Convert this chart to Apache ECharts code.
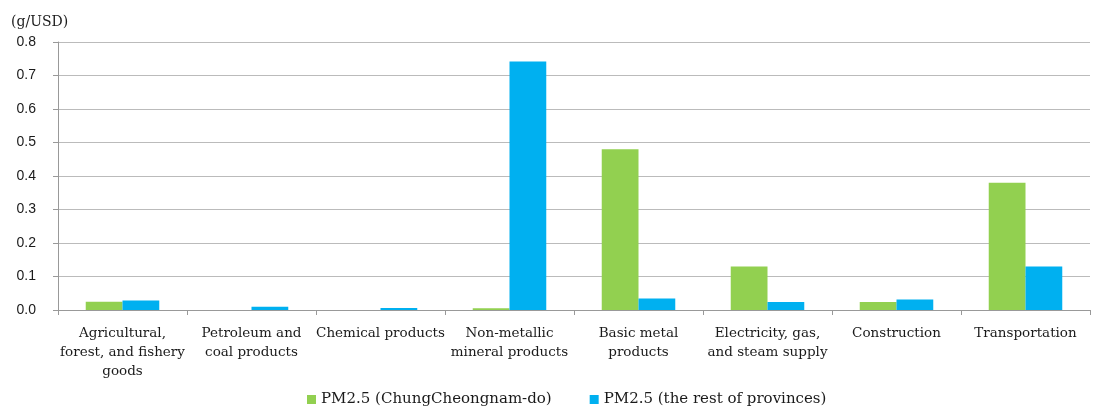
<!DOCTYPE html>
<html>
<head>
<meta charset="utf-8">
<script src="https://cdn.jsdelivr.net/npm/echarts@6/dist/echarts.min.js"></script>
<style>
  html, body { margin: 0; padding: 0; background: #fff; }
  #chart { width: 1093px; height: 412px; }
</style>
</head>
<body>
<div id="chart"></div>
<script>
// Emission intensity by industry (g/USD)
const categories = [
  'Agricultural,\nforest, and fishery\ngoods',
  'Petroleum and\ncoal products',
  'Chemical products',
  'Non-metallic\nmineral products',
  'Basic metal\nproducts',
  'Electricity, gas,\nand steam supply',
  'Construction',
  'Transportation'
];
const chungnamValues = [0.025, 0.0, 0.0, 0.005, 0.48, 0.13, 0.024, 0.38];
const restValues     = [0.028, 0.01, 0.006, 0.742, 0.034, 0.024, 0.031, 0.13];
const seriesNames = ['PM2.5 (ChungCheongnam-do)', 'PM2.5 (the rest of provinces)'];
const unitLabel = '(g/USD)';

const serif = '"DejaVu Serif", "Liberation Serif", serif';
const sans = '"Liberation Sans", Arial, sans-serif';

const chart = echarts.init(document.getElementById('chart'));
chart.setOption({
  animation: false,
  grid: { left: 58, right: 3, top: 42, bottom: 102, containLabel: false },
  title: {
    text: unitLabel, left: 6, top: 10,
    textStyle: { fontFamily: serif, fontSize: 14, fontWeight: 'normal', color: '#1a1a1a' }
  },
  legend: {
    bottom: 0, left: 302, itemWidth: 9, itemHeight: 9, itemGap: 38,
    icon: 'rect',
    textStyle: { fontFamily: serif, fontSize: 15, color: '#1a1a1a' },
    data: seriesNames
  },
  xAxis: {
    type: 'category',
    data: categories,
    axisLine: { lineStyle: { color: '#999' } },
    axisTick: { show: true, length: 5, lineStyle: { color: '#999' } },
    axisLabel: {
      interval: 0, margin: 14, lineHeight: 19,
      fontFamily: serif, fontSize: 13.5, color: '#1a1a1a'
    }
  },
  yAxis: {
    type: 'value', min: 0, max: 0.8, interval: 0.1,
    axisLine: { show: true, lineStyle: { color: '#999' } },
    axisTick: { show: true, length: 5, inside: false, lineStyle: { color: '#999' } },
    splitLine: { lineStyle: { color: '#bbb', width: 1 } },
    axisLabel: {
      margin: 22, fontFamily: sans, fontSize: 14, color: '#1a1a1a',
      formatter: v => v.toFixed(1)
    }
  },
  series: [
    {
      name: seriesNames[0], type: 'bar', data: chungnamValues,
      itemStyle: { color: '#92D050' },
      barGap: '0%', barCategoryGap: '43%'
    },
    {
      name: seriesNames[1], type: 'bar', data: restValues,
      itemStyle: { color: '#00B0F0' },
      barGap: '0%', barCategoryGap: '43%'
    }
  ]
});
</script>
</body>
</html>
